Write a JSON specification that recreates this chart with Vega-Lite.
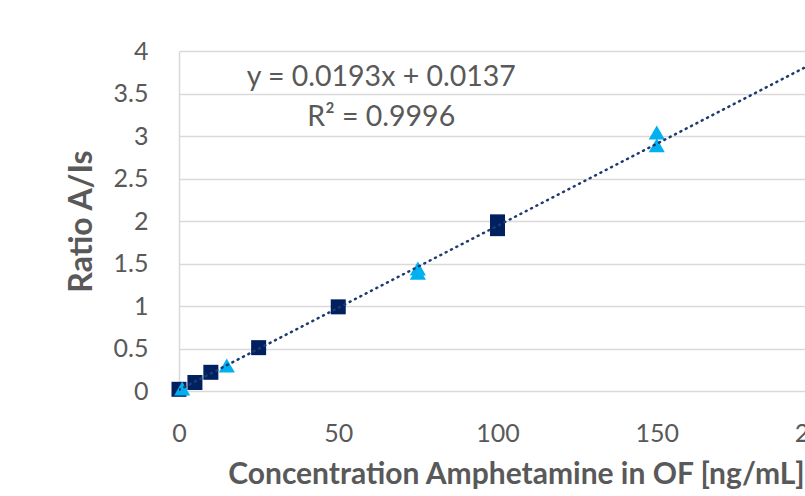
{
  "$schema": "https://vega.github.io/schema/vega-lite/v6.json",
  "autosize": "none",
  "padding": {"left": 179, "top": 51, "right": 0, "bottom": 105},
  "width": 637,
  "height": 340,
  "background": "white",
  "config": {
    "view": {"stroke": null},
    "font": "Lato",
    "axis": {"labelFont": "Lato", "titleFont": "Lato", "labelColor": "#595959", "titleColor": "#595959"}
  },
  "datasets": {
    "points": [
      {"conc": 0, "ratio": 0.02, "series": "cal"},
      {"conc": 5, "ratio": 0.1, "series": "cal"},
      {"conc": 10, "ratio": 0.22, "series": "cal"},
      {"conc": 25, "ratio": 0.51, "series": "cal"},
      {"conc": 50, "ratio": 0.99, "series": "cal"},
      {"conc": 100, "ratio": 1.99, "series": "cal"},
      {"conc": 100, "ratio": 1.91, "series": "cal"},
      {"conc": 1, "ratio": 0.03, "series": "qc"},
      {"conc": 15, "ratio": 0.3, "series": "qc"},
      {"conc": 75, "ratio": 1.44, "series": "qc"},
      {"conc": 75, "ratio": 1.39, "series": "qc"},
      {"conc": 150, "ratio": 3.04, "series": "qc"},
      {"conc": 150, "ratio": 2.89, "series": "qc"}
    ],
    "trend": [
      {"conc": 0, "ratio": 0.0137},
      {"conc": 200, "ratio": 3.8737}
    ],
    "labels": [
      {"conc": 63.5, "ratio": 3.7, "text": "y = 0.0193x + 0.0137"},
      {"conc": 63.5, "ratio": 3.22, "text": "R² = 0.9996"}
    ]
  },
  "layer": [
    {
      "data": {"name": "trend"},
      "mark": {"type": "line", "opacity": 0, "clip": true},
      "encoding": {
        "x": {
          "field": "conc", "type": "quantitative",
          "scale": {"domain": [0, 200], "nice": false},
          "axis": {
            "values": [0, 50, 100, 150, 200],
            "grid": false, "domain": false, "ticks": false, "labelFlush": false,
            "labelFontSize": 25, "labelPadding": 30, "labelOverlap": false,
            "title": "Concentration Amphetamine in OF [ng/mL]",
            "titleFontSize": 30, "titleFontWeight": "bold", "titlePadding": 13,
            "titleX": 337
          }
        },
        "y": {
          "field": "ratio", "type": "quantitative",
          "scale": {"domain": [0, 4], "nice": false},
          "axis": {
            "values": [0, 0.5, 1, 1.5, 2, 2.5, 3, 3.5, 4],
            "format": "~g", "labelFlush": false,
            "grid": true, "gridColor": "#D9D9D9", "gridWidth": 1.5,
            "domain": true, "domainColor": "#D9D9D9", "domainWidth": 1.5,
            "ticks": false, "labelFontSize": 25, "labelPadding": 31, "labelOverlap": false,
            "title": "Ratio A/Is", "titleFontSize": 32, "titleFontWeight": "bold",
            "titlePadding": 15
          }
        }
      }
    },
    {
      "data": {"name": "points"},
      "transform": [{"filter": "datum.series === 'cal'"}],
      "mark": {"type": "square", "filled": true, "color": "#002060", "size": 225, "opacity": 1},
      "encoding": {
        "x": {"field": "conc", "type": "quantitative"},
        "y": {"field": "ratio", "type": "quantitative"}
      }
    },
    {
      "data": {"name": "points"},
      "transform": [{"filter": "datum.series === 'qc'"}],
      "mark": {"type": "point", "shape": "triangle-up", "filled": true, "color": "#00B0F0", "size": 260, "opacity": 1},
      "encoding": {
        "x": {"field": "conc", "type": "quantitative"},
        "y": {"field": "ratio", "type": "quantitative"}
      }
    },
    {
      "data": {"name": "trend"},
      "mark": {"type": "line", "color": "#1F3A6E", "strokeWidth": 2.5, "strokeDash": [1, 5], "strokeCap": "round", "clip": true},
      "encoding": {
        "x": {"field": "conc", "type": "quantitative"},
        "y": {"field": "ratio", "type": "quantitative"}
      }
    },
    {
      "data": {"name": "labels"},
      "mark": {"type": "text", "fontSize": 28.5, "color": "#595959", "font": "Lato", "align": "center", "baseline": "middle"},
      "encoding": {
        "x": {"field": "conc", "type": "quantitative"},
        "y": {"field": "ratio", "type": "quantitative"},
        "text": {"field": "text"}
      }
    }
  ]
}
